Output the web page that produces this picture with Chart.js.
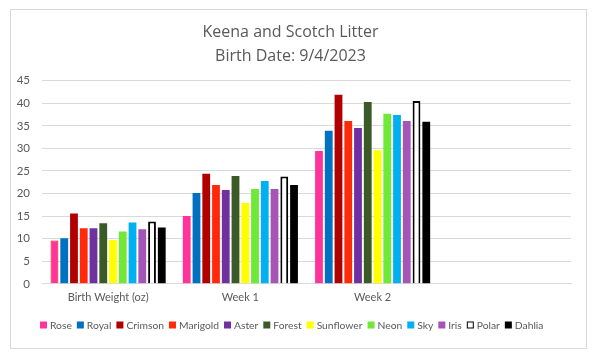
<!DOCTYPE html>
<html>
<head>
<meta charset="utf-8">
<script src="https://cdn.jsdelivr.net/npm/chart.js@4"></script>
<style>
  html, body { margin: 0; padding: 0; background: #fff; }
  #wrap { width: 599px; height: 358px; position: relative; }
</style>
</head>
<body>
<div id="wrap"><canvas id="c" width="599" height="358"></canvas></div>
<script>
const categories = ['Birth Weight (oz)', 'Week 1', 'Week 2', ''];
const titleLines = ['Keena and Scotch Litter', 'Birth Date: 9/4/2023'];
const yTicks = [0, 5, 10, 15, 20, 25, 30, 35, 40, 45];

const rose      = [9.6, 15.0, 29.4];
const royal     = [10.1, 20.1, 33.9];
const crimson   = [15.6, 24.4, 41.9];
const marigold  = [12.3, 21.9, 36.1];
const aster     = [12.3, 20.8, 34.5];
const forest    = [13.4, 23.9, 40.3];
const sunflower = [9.7, 17.9, 29.6];
const neon      = [11.6, 21.0, 37.7];
const sky       = [13.6, 22.8, 37.4];
const iris      = [12.1, 21.0, 36.1];
const polar     = [13.8, 23.8, 40.5];
const dahlia    = [12.5, 21.9, 35.9];

const seriesNames = ['Rose','Royal','Crimson','Marigold','Aster','Forest','Sunflower','Neon','Sky','Iris','Polar','Dahlia'];
const seriesData = [rose, royal, crimson, marigold, aster, forest, sunflower, neon, sky, iris, polar, dahlia];
const fills = ['#FF3399','#0070C0','#B00000','#FF2A0A','#7030A0','#3A5A27','#FFFF00','#70E838','#00B0F0','#A455B6','#FFFFFF','#000000'];

const datasets = seriesNames.map((name, i) => {
  const ds = {
    label: name,
    data: seriesData[i],
    backgroundColor: fills[i],
    borderColor: fills[i],
    borderWidth: 0,
    categoryPercentage: 0.885,
    barPercentage: 0.8
  };
  if (name === 'Polar') { ds.borderColor = '#000000'; ds.borderWidth = 2; }
  if (name === 'Rose') {
    ds.borderColor = (ctx) => (ctx.type === 'data' && ctx.dataIndex === 0) ? '#FF0000' : fills[i];
    ds.borderWidth = (ctx) => (ctx.type === 'data' && ctx.dataIndex === 0) ? 1 : 0;
  }
  return ds;
});

const FONT = "Lato, 'Open Sans', sans-serif";
const TITLE_FONT = "'Open Sans', Lato, sans-serif";
const TXT = '#595959';

const frame = {
  id: 'frame',
  beforeDraw(chart) {
    const ctx = chart.ctx;
    ctx.save();
    ctx.fillStyle = '#fff';
    ctx.fillRect(0, 0, chart.width, chart.height);
    ctx.strokeStyle = '#D9D9D9';
    ctx.lineWidth = 1;
    ctx.strokeRect(10.5, 9.5, 576, 339);
    ctx.restore();
  }
};

const customLegend = {
  id: 'customLegend',
  afterDraw(chart) {
    const ctx = chart.ctx;
    const box = 7, gapText = 3, gapItem = 5, y = 325;
    ctx.save();
    ctx.font = '10.3px ' + FONT;
    ctx.textBaseline = 'middle';
    ctx.textAlign = 'left';
    const items = chart.data.datasets.map(ds => ({ label: ds.label, w: ctx.measureText(ds.label).width }));
    let total = 0;
    items.forEach((it, i) => { total += box + gapText + it.w + (i < items.length - 1 ? gapItem : 0); });
    let x = Math.round(291.5 - total / 2);
    chart.data.datasets.forEach((ds, i) => {
      const it = items[i];
      ctx.fillStyle = fills[i];
      ctx.fillRect(x, y - box / 2, box, box);
      if (ds.label === 'Polar') {
        ctx.strokeStyle = '#000';
        ctx.lineWidth = 1;
        ctx.strokeRect(x + 0.5, y - box / 2 + 0.5, box - 1, box - 1);
      }
      ctx.fillStyle = TXT;
      ctx.fillText(it.label, x + box + gapText, y + 0.5);
      x += box + gapText + it.w + gapItem;
    });
    ctx.restore();
  }
};

new Chart(document.getElementById('c'), {
  type: 'bar',
  data: { labels: categories, datasets },
  plugins: [frame, customLegend],
  options: {
    responsive: false,
    animation: false,
    layout: { padding: { left: 10, right: 28, top: 0, bottom: 47 } },
    plugins: {
      title: {
        display: true,
        text: titleLines,
        color: TXT,
        font: { family: TITLE_FONT, size: 16, weight: 'normal', lineHeight: 1.46 },
        padding: { top: 21, bottom: 13 }
      },
      legend: { display: false },
      tooltip: { enabled: false }
    },
    scales: {
      x: {
        grid: { display: false, drawTicks: false },
        border: { color: '#D9D9D9' },
        ticks: { color: TXT, font: { family: FONT, size: 11 }, padding: 7, maxRotation: 0, autoSkip: false }
      },
      y: {
        min: 0,
        max: 45,
        afterFit(scale) { scale.width = 32; },
        afterBuildTicks(scale) { scale.ticks = yTicks.map(v => ({ value: v })); },
        grid: { color: '#D9D9D9', drawTicks: false },
        border: { display: false },
        ticks: { color: TXT, font: { family: FONT, size: 11.5 }, padding: 12 }
      }
    }
  }
});
</script>
</body>
</html>
